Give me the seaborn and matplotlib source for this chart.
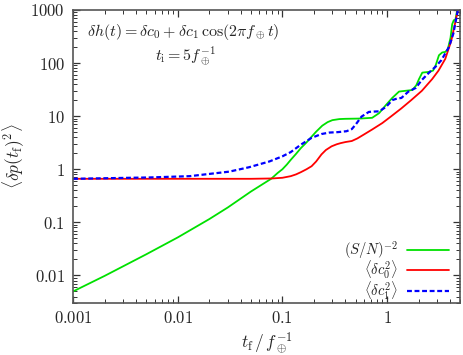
# Noise curves for delta h(t) = dc0 + dc1 cos(2 pi f t), log-log
import matplotlib
matplotlib.use('Agg')
import matplotlib.pyplot as plt
import matplotlib.ticker as mticker
import seaborn as sns

sns.set_style('ticks')
plt.rcParams['font.family'] = ['DejaVu Serif']
plt.rcParams['mathtext.fontset'] = 'cm'
plt.rcParams['xtick.direction'] = 'in'
plt.rcParams['ytick.direction'] = 'in'

# values
t_sn = [0.001, 0.002, 0.005, 0.01, 0.02, 0.03, 0.05, 0.078, 0.09, 0.1, 0.11,
        0.12, 0.135, 0.15, 0.17, 0.19, 0.21, 0.24, 0.27, 0.3, 0.35, 0.4, 0.55,
        0.72, 0.84, 0.97, 1.12, 1.3, 1.5, 1.74, 1.9, 2.02, 2.17, 2.5, 2.75,
        2.91, 3.13, 3.36, 3.6, 3.8, 4.04, 4.19, 4.34, 4.5, 4.68]
sn = [0.005, 0.0098, 0.025, 0.052, 0.115, 0.19, 0.38, 0.66, 0.85, 1.0, 1.22,
      1.5, 1.95, 2.5, 3.2, 4.1, 5.1, 6.6, 7.7, 8.4, 8.8, 8.9, 9.0,
      9.3, 11.4, 16, 22, 29, 30, 31, 38, 50, 66, 68, 72,
      90, 140, 158, 162, 180, 300, 540, 640, 660, 1000]

t_c0 = [0.001, 0.01, 0.05, 0.08, 0.1, 0.12, 0.135, 0.15, 0.17, 0.19, 0.21,
        0.236, 0.26, 0.295, 0.33, 0.36, 0.4, 0.46, 0.52, 0.6, 0.72, 0.9, 1.1,
        1.37, 1.7, 2.15, 2.7, 3.1, 3.6, 4.1, 4.5, 4.75]
c0 = [0.66, 0.66, 0.66, 0.67, 0.69, 0.74, 0.8, 0.88, 1.0, 1.14, 1.4,
      1.9, 2.3, 2.7, 2.95, 3.1, 3.25, 3.4, 3.8, 4.5, 5.6, 7.4, 10,
      14, 20, 30, 50, 72, 120, 260, 600, 1000]

t_c1 = [0.001, 0.0054, 0.013, 0.031, 0.048, 0.075, 0.1, 0.12, 0.15, 0.19,
        0.236, 0.28, 0.34, 0.41, 0.46, 0.5, 0.57, 0.67, 0.76, 0.84, 0.98,
        1.12, 1.25, 1.37, 1.6, 1.88, 2.15, 2.5, 2.9, 3.3, 3.9, 4.3, 4.6, 4.75]
c1 = [0.66, 0.7, 0.74, 0.9, 1.09, 1.4, 1.75, 2.1, 2.9, 3.9,
      4.6, 4.9, 5.0, 5.2, 5.7, 6.9, 9.8, 12, 12.2, 12.3, 15,
      20, 21.5, 22, 29, 34, 48, 65, 85, 113, 200, 360, 720, 1000]

x_ticks = [0.001, 0.01, 0.1, 1]
x_labels = ['0.001', '0.01', '0.1', '1']
y_ticks = [0.01, 0.1, 1, 10, 100, 1000]
y_labels = ['0.01', '0.1', '1', '10', '100', '1000']

fig = plt.figure(figsize=(4.63, 3.55), dpi=100)
ax = fig.add_axes([0.158, 0.146, 0.836, 0.826])

sns.lineplot(x=t_sn, y=sn, ax=ax, color='#00e000', lw=1.3, sort=False,
             label=r'$(S/N)^{-2}$')
sns.lineplot(x=t_c0, y=c0, ax=ax, color='#ff0000', lw=1.3, sort=False,
             label=r'$\langle\delta c_0^2\rangle$')
sns.lineplot(x=t_c1, y=c1, ax=ax, color='#0000ff', lw=1.6, sort=False,
             linestyle=(0, (2.2, 1.2)), label=r'$\langle\delta c_1^2\rangle$')

ax.set_xscale('log')
ax.set_yscale('log')
ax.set_xlim(0.001, 5)
ax.set_ylim(0.003, 1000)

ax.xaxis.set_major_locator(mticker.FixedLocator(x_ticks))
ax.xaxis.set_major_formatter(mticker.FixedFormatter(['$%s$' % s for s in x_labels]))
ax.yaxis.set_major_locator(mticker.FixedLocator(y_ticks))
ax.yaxis.set_major_formatter(mticker.FixedFormatter(['$%s$' % s for s in y_labels]))
ax.xaxis.set_minor_locator(mticker.LogLocator(subs=range(2, 10)))
ax.yaxis.set_minor_locator(mticker.LogLocator(subs=range(2, 10)))
ax.xaxis.set_minor_formatter(mticker.NullFormatter())
ax.yaxis.set_minor_formatter(mticker.NullFormatter())

ax.tick_params(which='both', top=True, right=True, color='#333333')
ax.tick_params(which='major', length=5, width=0.9, labelsize=12, pad=6)
ax.tick_params(which='minor', length=3, width=0.7)
ax.tick_params(axis='x', which='major', pad=5)
for s in ax.spines.values():
    s.set_color('#555555')
    s.set_linewidth(1.2)

ax.set_xlabel(r'$t_{\rm f}\,/\,f_\oplus^{-1}$', fontsize=12.5, labelpad=2)
ax.set_ylabel(r'$\langle\delta p(t_{\rm f})^2\rangle$', fontsize=12.5, labelpad=2)

ax.text(0.285, 0.96, r'$\delta h(t) = \delta c_0 + \delta c_1\,\cos(2\pi f_\oplus t)$',
        transform=ax.transAxes, ha='center', va='top', fontsize=11.5)
ax.text(0.29, 0.883, r'$t_{\rm i} = 5 f_\oplus^{-1}$',
        transform=ax.transAxes, ha='center', va='top', fontsize=11.5)

ax.legend(loc='lower right', markerfirst=False, frameon=False, fontsize=10.5,
          handlelength=2.9, handletextpad=0.6, labelspacing=-0.15,
          borderpad=0.1, borderaxespad=0.0, bbox_to_anchor=(0.975, 0.0))

fig.savefig('out.png', dpi=100)
